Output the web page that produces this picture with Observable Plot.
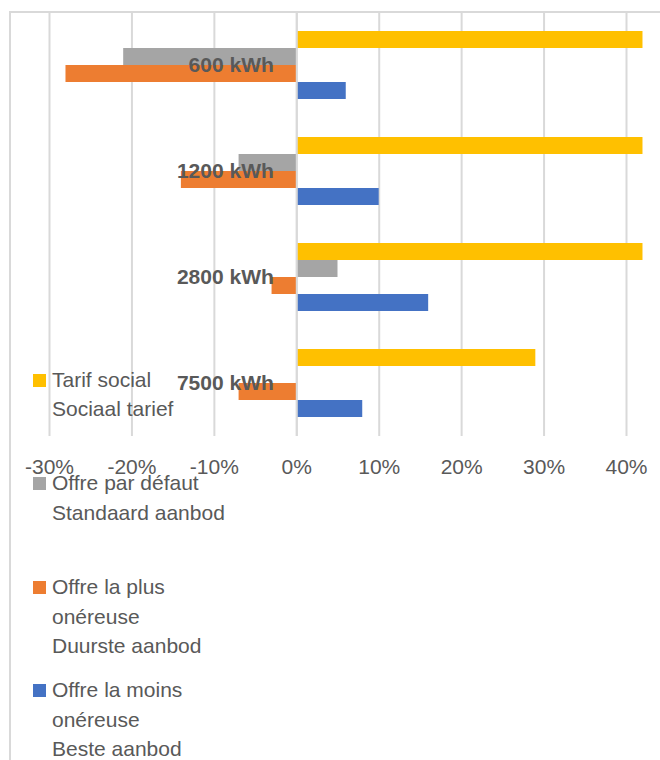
<!DOCTYPE html>
<html><head><meta charset="utf-8">
<script src="https://cdn.jsdelivr.net/npm/d3@7"></script>
<script src="https://cdn.jsdelivr.net/npm/@observablehq/plot@0.6"></script>
<style>
body{margin:0;background:#fff;font-family:"Liberation Sans",Arial,sans-serif;}
#wrap{position:relative;width:660px;height:760px;overflow:hidden;background:#fff;}
#wrap svg{position:absolute;left:0;top:0;}
#frame{position:absolute;left:9px;top:11px;width:700px;height:800px;border-left:2px solid #d9d9d9;border-top:2px solid #d9d9d9;}
.leg{position:absolute;left:33px;font-size:21px;line-height:29.5px;color:#595959;}
.leg .sw{position:absolute;left:0;top:9px;width:13px;height:13px;}
.leg .tx{margin-left:19px;white-space:nowrap;}
</style></head>
<body>
<div id="wrap"><div id="frame"></div></div>
<script>
const categories = ["600 kWh", "1200 kWh", "2800 kWh", "7500 kWh"];
const seriesNames = ["Tarif social", "Offre par défaut", "Offre la plus onéreuse", "Offre la moins onéreuse"];
const legendLines = [
  ["Tarif social", "Sociaal tarief"],
  ["Offre par défaut", "Standaard aanbod"],
  ["Offre la plus", "onéreuse", "Duurste aanbod"],
  ["Offre la moins", "onéreuse", "Beste aanbod"]
];
const tarifSocial = [42, 42, 42, 29];
const offreParDefaut = [-21, -7, 5, 0];
const offrePlusOnereuse = [-28, -14, -3, -7];
const offreMoinsOnereuse = [6, 10, 16, 8];
const xTicks = [-30, -20, -10, 0, 10, 20, 30, 40];
const colors = ["#FFC000", "#A5A5A5", "#ED7D31", "#4472C4"];

const seriesValues = [tarifSocial, offreParDefaut, offrePlusOnereuse, offreMoinsOnereuse];
const rows = categories.flatMap((c, i) => seriesNames.map((s, j) => ({category: c, series: s, value: seriesValues[j][i]})));

const chart = Plot.plot({
  width: 660, height: 760,
  marginTop: 12, marginBottom: 324, marginLeft: 49, marginRight: 34,
  style: {fontFamily: '"Liberation Sans", Arial, sans-serif', fontSize: "21px", color: "#595959", background: "transparent", overflow: "visible"},
  x: {domain: [-30, 40], ticks: xTicks, tickFormat: d => `${d}%`, tickSize: 0, tickPadding: 23, label: null},
  y: {domain: seriesNames, paddingInner: 0, paddingOuter: 1.1, axis: null},
  fy: {domain: categories, padding: 0, axis: null},
  color: {domain: seriesNames, range: colors},
  marks: [
    Plot.ruleX(xTicks, {stroke: "#d9d9d9", strokeWidth: 2}),
    Plot.barX(rows, {fy: "category", y: "series", x1: 0, x2: "value", fill: "series"}),
    Plot.ruleX([0], {stroke: "#d9d9d9", strokeWidth: 2}),
    Plot.text(categories, {fy: d => d, x: 0, text: d => d, textAnchor: "end", dx: -23, fontWeight: "bold", fill: "#595959", fontSize: 21})
  ]
});
const wrap = document.getElementById("wrap");
wrap.appendChild(chart);

const tops = [364.7, 468, 572, 675];
legendLines.forEach((lines, i) => {
  const d = document.createElement("div");
  d.className = "leg";
  d.style.top = tops[i] + "px";
  const sw = document.createElement("div");
  sw.className = "sw";
  sw.style.background = colors[i];
  d.appendChild(sw);
  const tx = document.createElement("div");
  tx.className = "tx";
  tx.innerHTML = lines.join("<br>");
  d.appendChild(tx);
  wrap.appendChild(d);
});
</script>
</body></html>
